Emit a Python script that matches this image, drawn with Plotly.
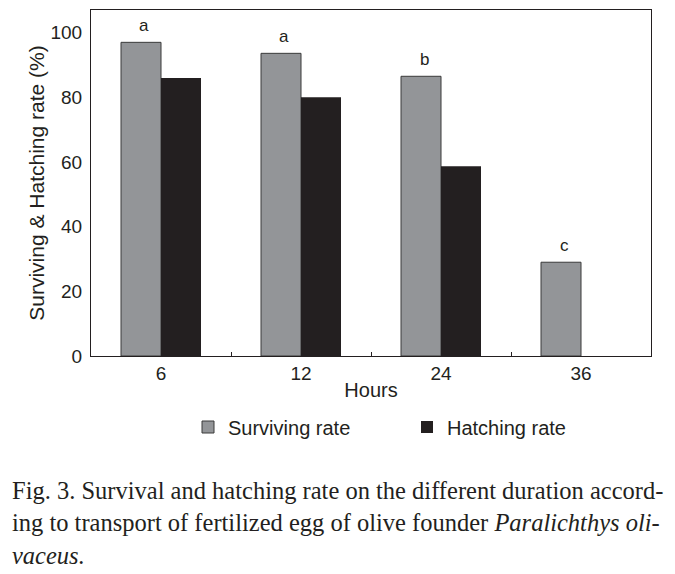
import plotly.graph_objects as go

hours = ["6", "12", "24", "36"]
surviving = [97, 93.6, 86.5, 29]
hatching = [86, 80, 58.7, 0]
letters = ["a", "a", "b", "c"]

caption_lines = [
    "Fig. 3. Survival and hatching rate on the different duration accord-",
    "ing to transport of fertilized egg of olive founder <i>Paralichthys oli-</i>",
    "<i>vaceus.</i>",
]

GRAY = "#939598"
BLACK = "#231f20"

fig = go.Figure()
fig.add_trace(go.Bar(x=hours, y=surviving, name="Surviving rate",
                     marker=dict(color=GRAY, line=dict(color="#3a3a3a", width=1))))
fig.add_trace(go.Bar(x=hours, y=hatching, name="Hatching rate",
                     marker=dict(color=BLACK, line=dict(width=0))))

for i, (s, l) in enumerate(zip(surviving, letters)):
    fig.add_annotation(x=i, y=s, text=l, showarrow=False, xshift=-17, yshift=17,
                       font=dict(family="Liberation Sans", size=17, color="#231f20"))

# page body has an 8px margin: figure is drawn 8px smaller and offset
OFF = 8
ys = [490, 522, 555]
for line, yy in zip(caption_lines, ys):
    fig.add_annotation(xref="paper", yref="paper", x=(11 - 91) / 560, y=(356 - yy) / 346,
                       xanchor="left", yanchor="middle", text=line, showarrow=False,
                       borderpad=0,
                       font=dict(family="Liberation Serif", size=24.5, color="#231f20"))

fig.update_layout(
    width=675 - OFF, height=574 - OFF,
    margin=dict(l=91 - OFF, r=24, t=10 - OFF, b=218, autoexpand=False),
    paper_bgcolor="white", plot_bgcolor="white",
    barmode="group", bargap=0.4286, bargroupgap=0,
    font=dict(family="Liberation Sans", color="#231f20"),
    showlegend=True,
    legend=dict(orientation="h", x=(228 - 40 - 91) / 560, xanchor="left",
                y=(356 - 427) / 346, yanchor="middle",
                font=dict(family="Liberation Sans", size=20, color="#231f20"),
                entrywidth=174, entrywidthmode="pixels",
                bgcolor="rgba(0,0,0,0)"),
    xaxis=dict(type="category", automargin=False, range=[-0.5, 3.5],
               showline=True, linecolor="#231f20", linewidth=1, mirror=True,
               ticks="inside", tickson="boundaries", ticklen=4, tickcolor="#231f20",
               tickfont=dict(size=19), showgrid=False,
               title=dict(text="Hours", font=dict(size=20), standoff=0)),
    yaxis=dict(range=[0, 107], automargin=False,
               showline=True, linecolor="#231f20", linewidth=1, mirror=True,
               tickvals=[0, 20, 40, 60, 80, 100], ticks="", showgrid=False, zeroline=False,
               tickfont=dict(size=19), ticklabelstandoff=4,
               title=dict(text="Surviving & Hatching rate (%)", font=dict(size=21), standoff=0)),
)

fig.write_html("out.html")
